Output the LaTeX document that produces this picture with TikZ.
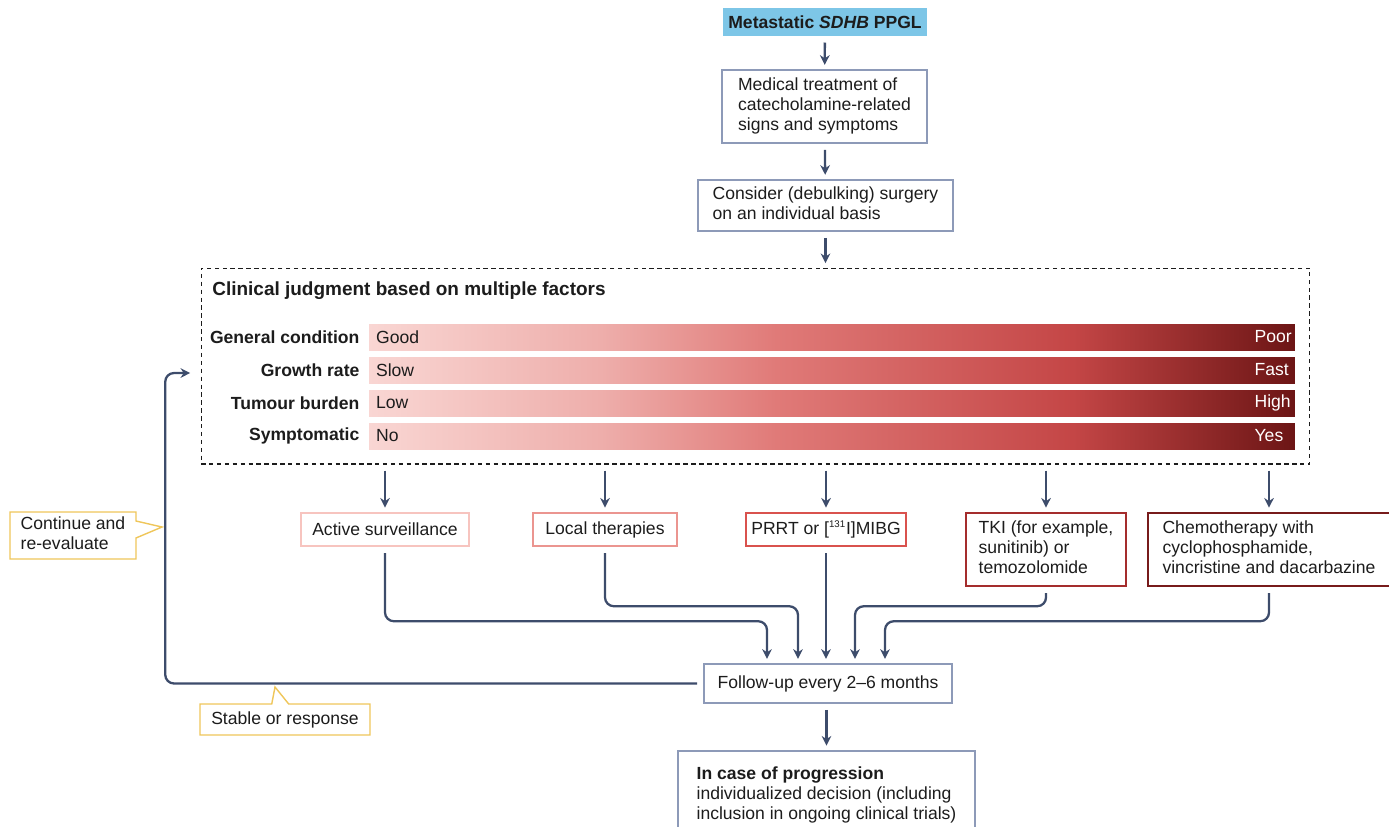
\documentclass[tikz,border=0pt]{standalone}
\usepackage{fontspec}
\setmainfont{Liberation Sans}
\usetikzlibrary{arrows.meta}
\usetikzlibrary{calc}
\usetikzlibrary{positioning}
\usetikzlibrary{shapes.callouts}
\definecolor{flowblue}{HTML}{3D4C6B}
\definecolor{boxgrey}{HTML}{8D9AB8}
\definecolor{headblue}{HTML}{7DC6E7}
\definecolor{inkblack}{HTML}{1C1C1C}
\definecolor{noteyellow}{HTML}{EFC65A}
\definecolor{optone}{HTML}{F7C4BF}
\definecolor{opttwo}{HTML}{EB9590}
\definecolor{optthree}{HTML}{D9524E}
\definecolor{optfour}{HTML}{A42D2D}
\definecolor{optfive}{HTML}{771B1B}
\definecolor{barA}{HTML}{F9D6D3}
\definecolor{barB}{HTML}{EEAEAB}
\definecolor{barC}{HTML}{E07A78}
\definecolor{barD}{HTML}{C44646}
\definecolor{barE}{HTML}{6C1515}
\pgfdeclarehorizontalshading{factorbar}{100bp}{color(0bp)=(barA); color(25bp)=(barA); color(37.5bp)=(barB); color(47bp)=(barC); color(63bp)=(barD); color(75bp)=(barE); color(100bp)=(barE)}
\tikzset{flow/.style={draw=flowblue, line width=1.3pt, shorten <=3.5pt, shorten >=2.5pt}}
\tikzset{elbow/.style={flow, rounded corners=5pt}}

\begin{document}
\begin{tikzpicture}[->,>={Stealth[length=5.5pt,width=5.5pt]}, x=0.02cm, y=-0.02cm, font=\fontsize{10}{11.4}\selectfont, text=inkblack]
\tikzstyle{headbox} = [rectangle, fill=headblue, minimum width=4.08cm, minimum height=0.56cm, inner sep=0pt]
\tikzstyle{stepbox} = [rectangle, draw=boxgrey, line width=0.9pt, inner sep=0pt]
\tikzstyle{optbox} = [rectangle, line width=1.1pt, minimum height=0.66cm, inner sep=0pt]
\tikzstyle{factorrow} = [rectangle, shading=factorbar, minimum width=18.52cm, minimum height=0.52cm, inner sep=0pt]
\tikzstyle{rowlabel} = [inner sep=0pt]
\tikzstyle{lowend} = [inner sep=0pt]
\tikzstyle{highend} = [inner sep=0pt, anchor=west, text=white]
\tikzstyle{notebox} = [rectangle callout, draw=noteyellow, line width=0.8pt, fill=white, callout pointer width=0.34cm, inner sep=0pt]

\useasboundingbox (0,0) rectangle (1389,826);

\node[headbox] (HEAD) at (825,22) {\textbf{Metastatic \textit{SDHB} PPGL}};

\node[stepbox, minimum width=4.1cm, minimum height=1.46cm] (MEDTREAT) at (824.5,106.5)
   {
      \begin{tabular}{@{}l@{}}
         Medical treatment of\\
         catecholamine-related\\
         signs and symptoms
      \end{tabular}
   };

\node[stepbox, minimum width=5.1cm, minimum height=1.02cm] (SURGERY) at (825.5,205.5)
   {
      \begin{tabular}{@{}l@{}}
         Consider (debulking) surgery\\
         on an individual basis
      \end{tabular}
   };

\node[draw=inkblack, line width=0.6pt, dash pattern=on 2.5pt off 2pt, minimum width=22.18cm, minimum height=3.92cm, inner sep=0pt] (FACTORS) at (755.5,366) {};

\node[anchor=west, inner sep=0pt, font=\fontsize{10.8}{13}\selectfont] (JUDGE) at (212,291) {\textbf{Clinical judgment based on multiple factors}};

\node[factorrow] (BARCOND) at (832,337) {};
\node[factorrow] (BARGROW) at (832,370) {};
\node[factorrow] (BARLOAD) at (832,403) {};
\node[factorrow] (BARSYMP) at (832,436) {};

\node[rowlabel, left=0.18cm of BARCOND.west] (LABCOND) {\textbf{General condition}};
\node[rowlabel, left=0.18cm of BARGROW.west] (LABGROW) {\textbf{Growth rate}};
\node[rowlabel, left=0.18cm of BARLOAD.west] (LABLOAD) {\textbf{Tumour burden}};
\node[rowlabel, left=0.18cm of BARSYMP.west] (LABSYMP) {\textbf{Symptomatic}};

\node[lowend, right=0.14cm of BARCOND.west] (GOOD) {Good};
\node[lowend, right=0.14cm of BARGROW.west] (SLOW) {Slow};
\node[lowend, right=0.14cm of BARLOAD.west] (LOW) {Low};
\node[lowend, right=0.14cm of BARSYMP.west] (NO) {No};

\node[highend] (POOR) at ($(BARCOND.east)+(-41,0)$) {Poor};
\node[highend] (FAST) at ($(BARGROW.east)+(-41,0)$) {Fast};
\node[highend] (HIGH) at ($(BARLOAD.east)+(-41,0)$) {High};
\node[highend] (YES) at ($(BARSYMP.east)+(-41,0)$) {Yes};

\node[optbox, draw=optone, minimum width=3.36cm] (ACTIVE) at (385,529.5) {Active surveillance};
\node[optbox, draw=opttwo, minimum width=2.88cm] (LOCAL) at (605,529.5) {Local therapies};
\node[optbox, draw=optthree, minimum width=3.2cm] (PRRT) at (826,529.5) {PRRT or [\textsuperscript{\fontsize{5.5}{6}\selectfont 131}I]MIBG};
\node[optbox, draw=optfour, minimum width=3.2cm, minimum height=1.46cm] (TKI) at (1046,549.5)
   {
      \begin{tabular}{@{}l@{}}
         TKI (for example,\\
         sunitinib) or\\
         temozolomide
      \end{tabular}
   };
\node[optbox, draw=optfive, minimum width=4.84cm, minimum height=1.46cm] (CHEMO) at (1269,549.5)
   {
      \begin{tabular}{@{}l@{}}
         Chemotherapy with\\
         cyclophosphamide,\\
         vincristine and dacarbazine
      \end{tabular}
   };

\node[stepbox, minimum width=4.96cm, minimum height=0.78cm] (FOLLOW) at (828,683.5) {Follow-up every 2--6 months};

\node[stepbox, anchor=north, minimum width=5.94cm, minimum height=1.8cm] (PROGRESS) at (826.5,750)
   {
      \begin{tabular}{@{}l@{}}
         \textbf{In case of progression}\\
         individualized decision (including\\
         inclusion in ongoing clinical trials)
      \end{tabular}
   };

\node[notebox, minimum width=2.52cm, minimum height=0.94cm, callout absolute pointer={(162,527)}] (CONTINUE) at (73,535.5)
   {
      \begin{tabular}{@{}l@{}}
         Continue and\\
         re-evaluate
      \end{tabular}
   };
\node[notebox, minimum width=3.4cm, minimum height=0.62cm, callout absolute pointer={(275,687)}] (STABLE) at (285,719.5) {Stable or response};

\path[flow] (HEAD) -- (MEDTREAT);
\path[flow] (MEDTREAT) -- (SURGERY);
\path[flow] (SURGERY) -- (SURGERY |- FACTORS.north);

\path[flow] (ACTIVE |- FACTORS.south) -- (ACTIVE);
\path[flow] (LOCAL |- FACTORS.south) -- (LOCAL);
\path[flow] (PRRT |- FACTORS.south) -- (PRRT);
\path[flow] (TKI |- FACTORS.south) -- (TKI);
\path[flow] (CHEMO |- FACTORS.south) -- (CHEMO);

\path[elbow] (ACTIVE.south) |- ($(FOLLOW.north)+(-61,-42)$) -- ($(FOLLOW.north)+(-61,0)$);
\path[elbow] (LOCAL.south) |- ($(FOLLOW.north)+(-30,-57)$) -- ($(FOLLOW.north)+(-30,0)$);
\path[flow] (PRRT) -- (PRRT |- FOLLOW.north);
\path[elbow] (TKI.south) |- ($(FOLLOW.north)+(27,-57)$) -- ($(FOLLOW.north)+(27,0)$);
\path[elbow] (CHEMO.south) |- ($(FOLLOW.north)+(57,-42)$) -- ($(FOLLOW.north)+(57,0)$);

\path[flow] (PROGRESS.north |- FOLLOW.south) -- (PROGRESS.north);
\path[elbow] (FOLLOW.west) -- ++(-538,0) |- ($(FACTORS.west)+(-6,7)$);
\end{tikzpicture}
\end{document}
